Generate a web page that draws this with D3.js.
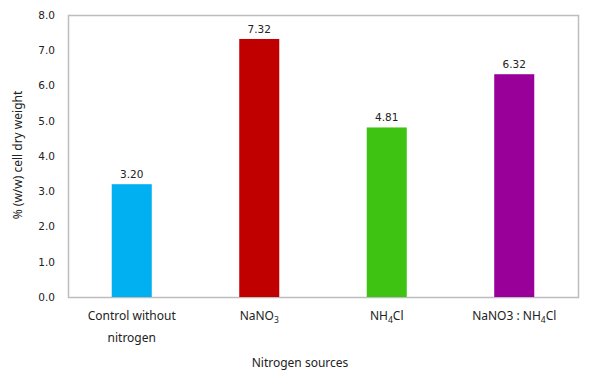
<!DOCTYPE html>
<html>
<head>
<meta charset="utf-8">
<script src="https://cdn.jsdelivr.net/npm/d3@7"></script>
<style>
  body { margin: 0; background: #fff; }
  svg { display: block; }
  text { fill: #222; }
</style>
</head>
<body>
<svg id="chart" width="606" height="372"></svg>
<script>
// Categories: each label is split into parts, with subscripts marked
const categories = ["Control without nitrogen", "NaNO3", "NH4Cl", "NaNO3 : NH4Cl"];
const categoryLabels = [
  [[{ t: "Control without" }], [{ t: "nitrogen" }]],
  [[{ t: "NaNO" }, { t: "3", sub: true }]],
  [[{ t: "NH" }, { t: "4", sub: true }, { t: "Cl" }]],
  [[{ t: "NaNO3 : NH" }, { t: "4", sub: true }, { t: "Cl" }]]
];
const values = [3.20, 7.32, 4.81, 6.32];
const colors = ["#00b0f0", "#c00000", "#3fc313", "#990099"];
const yTicks = [0, 1, 2, 3, 4, 5, 6, 7, 8];

const svg = d3.select("#chart");
const plot = { left: 68, top: 15, right: 578, bottom: 297 };

const x = d3.scaleBand()
  .domain(categories)
  .range([plot.left, plot.right])
  .paddingInner(0.686)
  .paddingOuter(0.343);

const y = d3.scaleLinear().domain([0, 8]).range([plot.bottom, plot.top]);

// Plot area frame
svg.append("rect")
  .attr("x", plot.left + 0.5).attr("y", plot.top + 0.5)
  .attr("width", plot.right - plot.left).attr("height", plot.bottom - plot.top)
  .attr("fill", "none").attr("stroke", "#bdbdbd").attr("stroke-width", 1.5);

// Y axis tick labels
const yAxis = d3.axisLeft(y).tickValues(yTicks).tickFormat(d3.format(".1f")).tickSize(0).tickPadding(13);
const yg = svg.append("g").attr("transform", `translate(${plot.left},0)`).call(yAxis);
yg.select(".domain").remove();
yg.selectAll("text")
  .style("font-family", "'DejaVu Sans', Verdana, sans-serif")
  .style("font-size", "10.5px")
  .attr("fill", "#222");

// Bars
svg.append("g").selectAll("rect")
  .data(values)
  .join("rect")
  .attr("x", (d, i) => x(categories[i]))
  .attr("y", d => y(d))
  .attr("width", x.bandwidth())
  .attr("height", d => y(0) - y(d))
  .attr("fill", (d, i) => colors[i]);

// Value labels
svg.append("g").selectAll("text")
  .data(values)
  .join("text")
  .attr("x", (d, i) => x(categories[i]) + x.bandwidth() / 2)
  .attr("y", d => y(d) - 6)
  .attr("text-anchor", "middle")
  .style("font-family", "'DejaVu Sans', Verdana, sans-serif")
  .style("font-size", "10.5px")
  .text(d => d.toFixed(2));

// Category labels with subscripts
const catG = svg.append("g")
  .style("font-family", "'Noto Sans', 'Open Sans', sans-serif")
  .style("font-size", "12px");
categoryLabels.forEach((lines, i) => {
  const cx = x(categories[i]) + x.bandwidth() / 2;
  lines.forEach((parts, li) => {
    const t = catG.append("text")
      .attr("x", cx)
      .attr("y", 320 + li * 22)
      .attr("text-anchor", "middle");
    parts.forEach(p => {
      const ts = t.append("tspan").text(p.t);
      if (p.sub) ts.attr("baseline-shift", "-30%").style("font-size", "8.5px");
    });
  });
});

// Axis titles
svg.append("text")
  .attr("x", 300)
  .attr("y", 367)
  .attr("text-anchor", "middle")
  .style("font-family", "'Noto Sans', 'Open Sans', sans-serif")
  .style("font-size", "12px")
  .text("Nitrogen sources");

svg.append("text")
  .attr("transform", `translate(22, ${(plot.top + plot.bottom) / 2 - 1}) rotate(-90)`)
  .attr("text-anchor", "middle")
  .style("font-family", "'Noto Sans', 'Open Sans', sans-serif")
  .style("font-size", "12px")
  .text("% (w/w) cell dry weight");
</script>
</body>
</html>
